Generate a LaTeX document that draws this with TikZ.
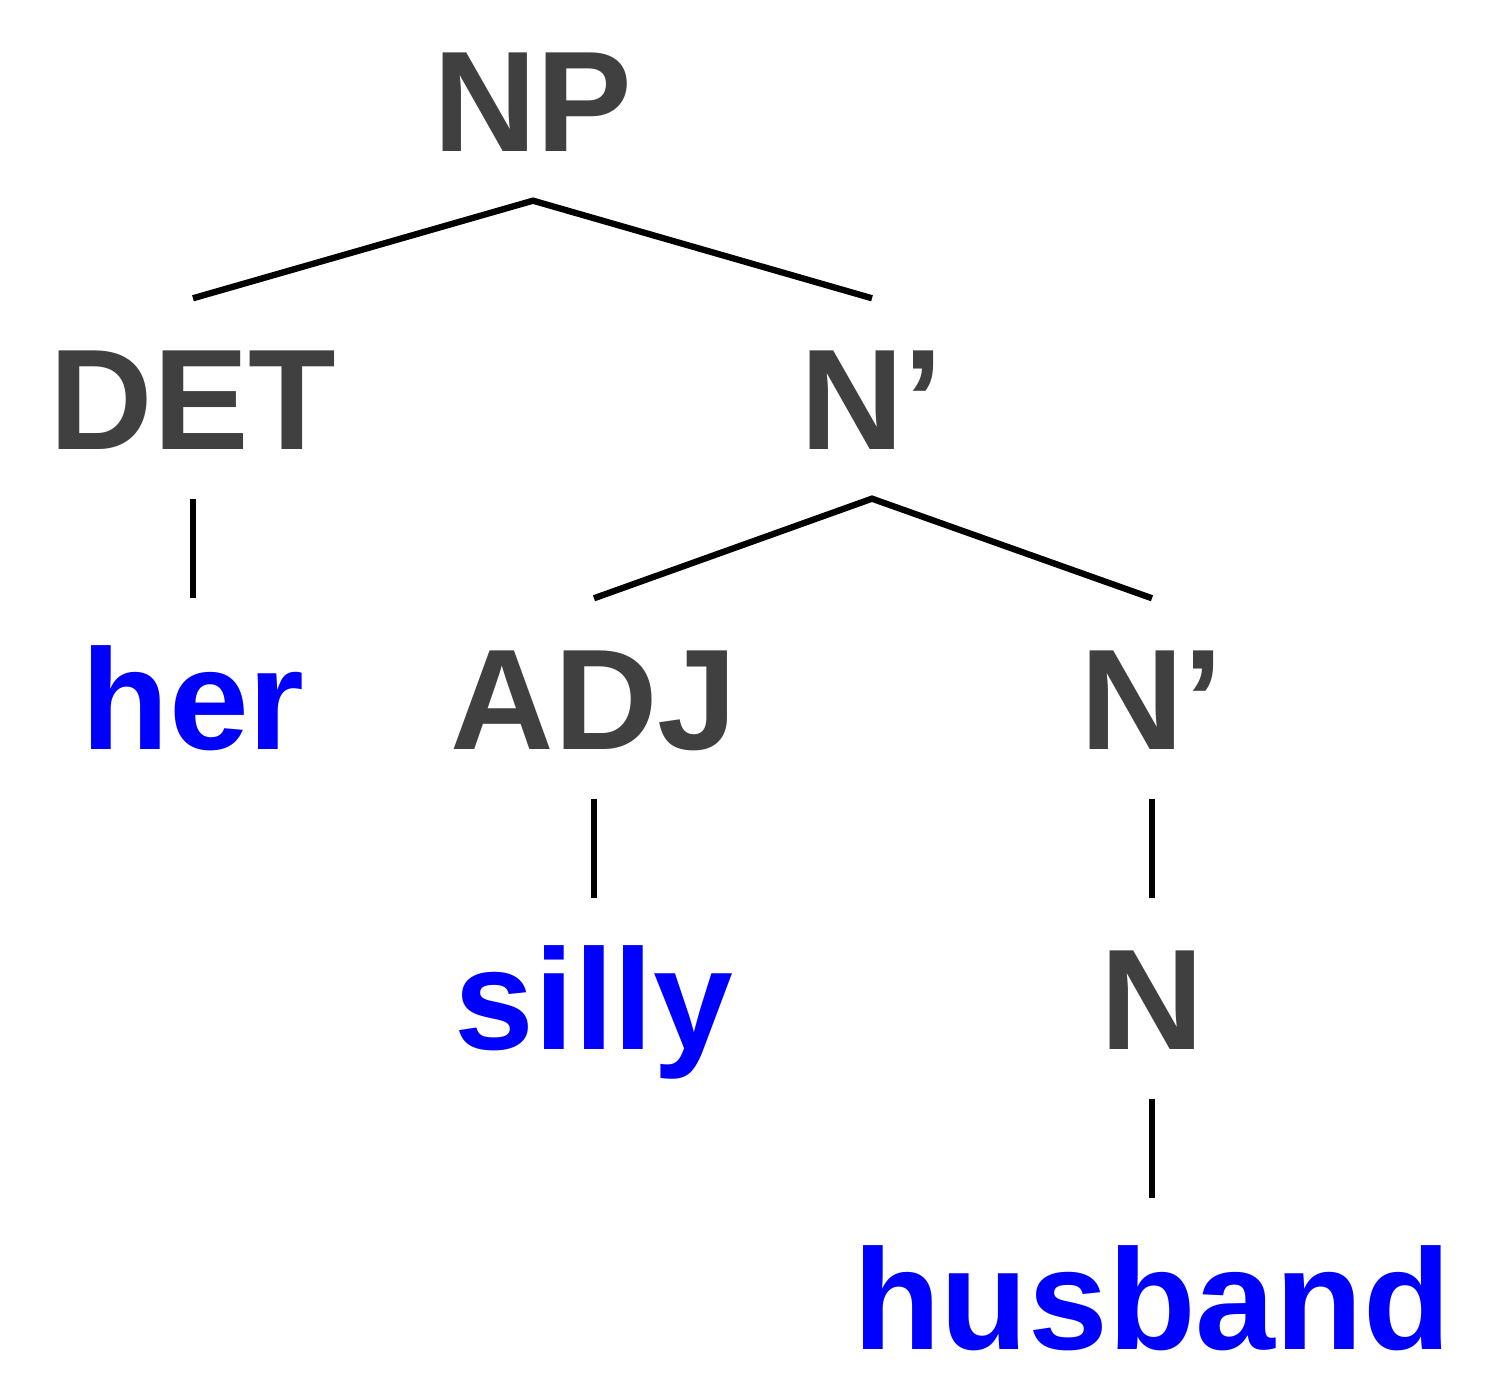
\documentclass[tikz,border=0pt]{standalone}
\usepackage{fontspec}
\setmainfont{Liberation Sans}
\definecolor{catgray}{RGB}{64,64,64}
\definecolor{wordblue}{RGB}{0,0,255}
\tikzset{
  tree-node/.style={
    anchor=base,
    font=\fontsize{40.8}{48}\selectfont\bfseries,
    text height=1.03cm,
    text depth=0pt,
    inner xsep=0pt,
    inner ysep=0.48cm
  },
  cat/.style={tree-node, text=catgray},
  word/.style={tree-node, text=wordblue},
  branch/.style={line width=1.8pt, draw=black}
}

\begin{document}
\begin{tikzpicture}
  \useasboundingbox (0,0) rectangle (15,13.98);
  % categories
  \node[cat] (np) at (5.33,12.46) {NP};
  \node[cat] (det) at (1.93,9.48) {DET};
  \node[cat] (nbar) at (8.72,9.48) {N’};
  \node[cat] (adj) at (5.94,6.48) {ADJ};
  \node[cat] (nbarlow) at (11.52,6.48) {N’};
  \node[cat] (n) at (11.52,3.48) {N};
  % words
  \node[word] (her) at (1.93,6.48) {her};
  \node[word] (silly) at (5.94,3.48) {silly};
  \node[word] (husband) at (11.52,0.48) {husband};
  % branches
  \draw[branch] (det.north) -- (np.south) -- (nbar.north);
  \draw[branch] (det.south) -- (her.north);
  \draw[branch] (adj.north) -- (nbar.south) -- (nbarlow.north);
  \draw[branch] (adj.south) -- (silly.north);
  \draw[branch] (nbarlow.south) -- (n.north);
  \draw[branch] (n.south) -- (husband.north);
\end{tikzpicture}
\end{document}
